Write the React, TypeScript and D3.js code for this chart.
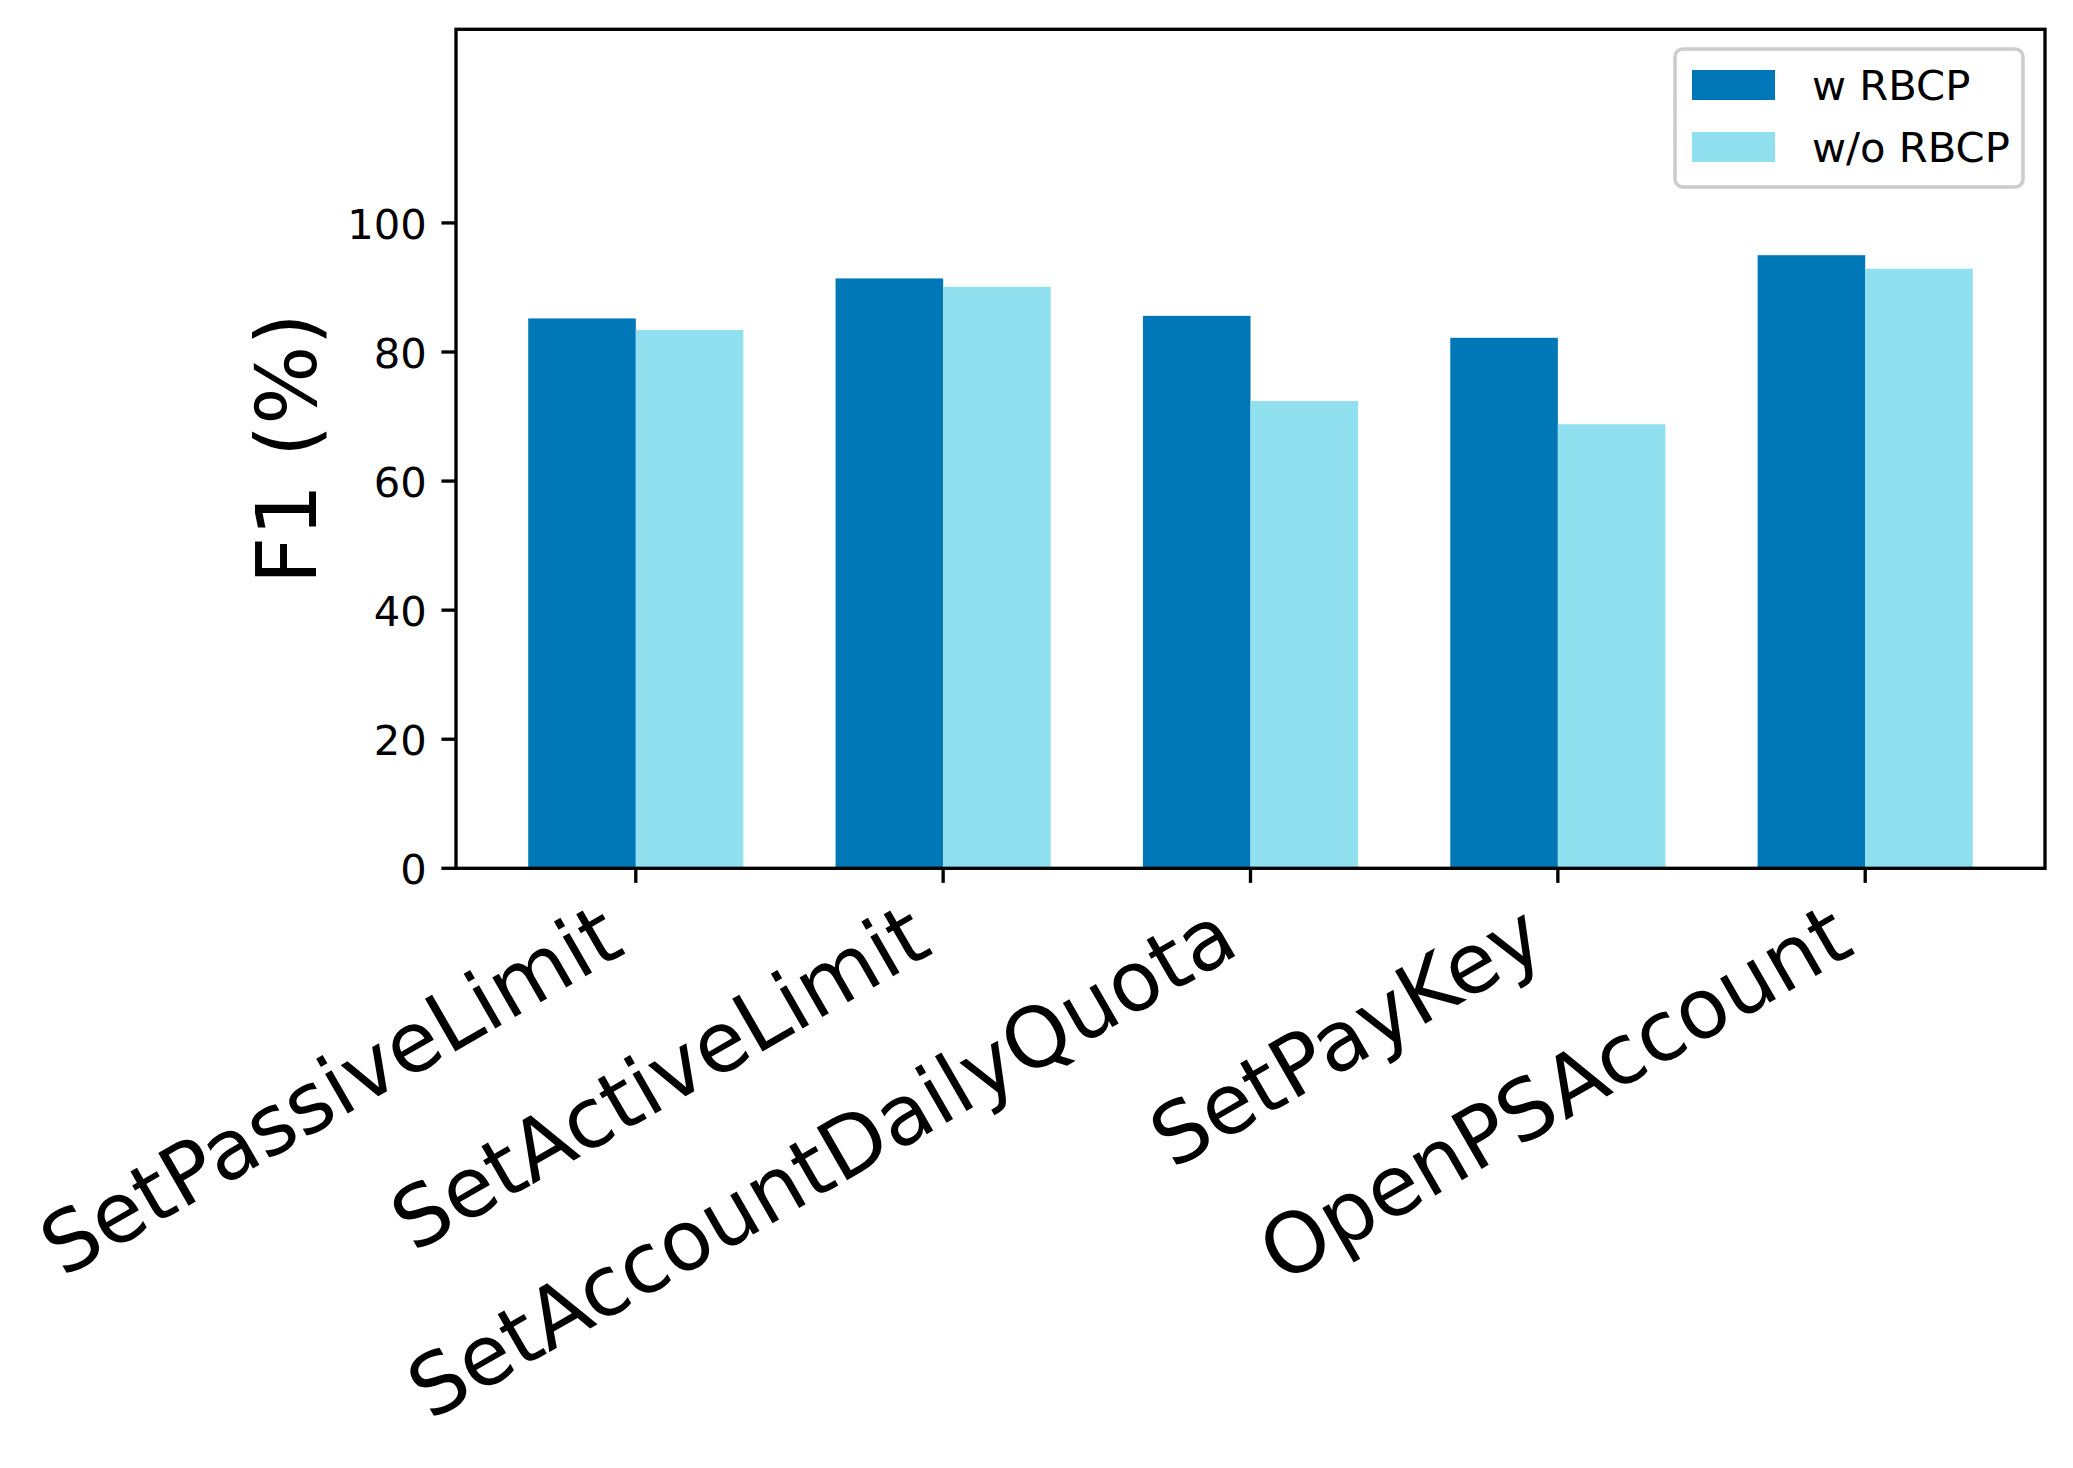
import React from "react";
import * as d3 from "d3";

const categories = [
  "SetPassiveLimit",
  "SetActiveLimit",
  "SetAccountDailyQuota",
  "SetPayKey",
  "OpenPSAccount",
];
const withRBCP = [85.2, 91.4, 85.6, 82.2, 95.0];
const withoutRBCP = [83.4, 90.1, 72.4, 68.8, 92.9];
const seriesNames = ["w RBCP", "w/o RBCP"];
const seriesColors = ["#0077B6", "#90E0EF"];
const yTicks = [0, 20, 40, 60, 80, 100];
const yLabel = "F1 (%)";

const W = 2073;
const H = 1468;
const left = 456;
const right = 2045;
const top = 29.3;
const bottom = 868.3;
const barWidth = 0.35;
const FONT = "DejaVu Sans";
const pt = 300 / 72;

export default function App() {
  const x = d3
    .scaleLinear()
    .domain([-0.585, categories.length - 1 + 0.585])
    .range([left, right]);
  const y = d3.scaleLinear().domain([0, 130]).range([bottom, top]);

  const series = [withRBCP, withoutRBCP];
  const tickLen = 3.5 * pt;
  const tickW = 0.8 * pt;
  const tickFs = 10 * pt;
  const bigFs = 20 * pt;

  const lx = 1675;
  const ly = 49;
  const lw = 348;
  const lh = 138;

  return (
    <div style={{ position: "absolute", left: 0, top: 0 }}>
      <svg width={W} height={H} style={{ display: "block", background: "#fff" }} fontFamily={FONT}>
        <rect x={0} y={0} width={W} height={H} fill="#fff" />
        {series.map((vals, si) =>
          vals.map((v, i) => {
            const cx = i + (si === 0 ? -barWidth / 2 : barWidth / 2);
            const x0 = x(cx - barWidth / 2);
            const x1 = x(cx + barWidth / 2);
            return (
              <rect
                key={`b-${si}-${i}`}
                x={x0}
                y={y(v)}
                width={x1 - x0}
                height={y(0) - y(v)}
                fill={seriesColors[si]}
              />
            );
          })
        )}
        {/* spines */}
        <rect
          x={left}
          y={top}
          width={right - left}
          height={bottom - top}
          fill="none"
          stroke="#000"
          strokeWidth={tickW}
          strokeLinejoin="miter"
        />
        {/* y ticks */}
        {yTicks.map((t) => (
          <g key={`yt-${t}`}>
            <line x1={left} x2={left - tickLen} y1={y(t)} y2={y(t)} stroke="#000" strokeWidth={tickW} />
            <text
              x={left - tickLen - 3.5 * pt}
              y={y(t)}
              dy={0.38 * tickFs}
              fontSize={tickFs}
              textAnchor="end"
              fill="#000"
            >
              {t}
            </text>
          </g>
        ))}
        {/* x ticks */}
        {categories.map((c, i) => {
          const tx = x(i);
          const topY = bottom + tickLen + 3.5 * pt;
          const asc = 0.76 * bigFs;
          const desc = 0.208 * bigFs;
          const bx = tx - desc * 0.5;
          const by = topY + asc * Math.cos(Math.PI / 6);
          return (
            <g key={`xt-${i}`}>
              <line x1={tx} x2={tx} y1={bottom} y2={bottom + tickLen} stroke="#000" strokeWidth={tickW} />
              <text
                transform={`translate(${bx},${by}) rotate(-30)`}
                fontSize={bigFs}
                textAnchor="end"
                fill="#000"
              >
                {c}
              </text>
            </g>
          );
        })}
        {/* y label */}
        <text
          transform={`translate(${316},${(top + bottom) / 2}) rotate(-90)`}
          fontSize={bigFs}
          textAnchor="middle"
          fill="#000"
        >
          {yLabel}
        </text>
        {/* legend */}
        <rect
          x={lx}
          y={ly}
          width={lw}
          height={lh}
          rx={8}
          ry={8}
          fill="#fff"
          fillOpacity={0.8}
          stroke="#cccccc"
          strokeWidth={3.5}
        />
        {seriesNames.map((n, si) => {
          const cy = ly + 36 + si * 62;
          return (
            <g key={`lg-${si}`}>
              <rect x={1692} y={cy - 15} width={83} height={30} fill={seriesColors[si]} />
              <text x={1812} y={cy + 15} fontSize={tickFs} fill="#000">
                {n}
              </text>
            </g>
          );
        })}
      </svg>
    </div>
  );
}
